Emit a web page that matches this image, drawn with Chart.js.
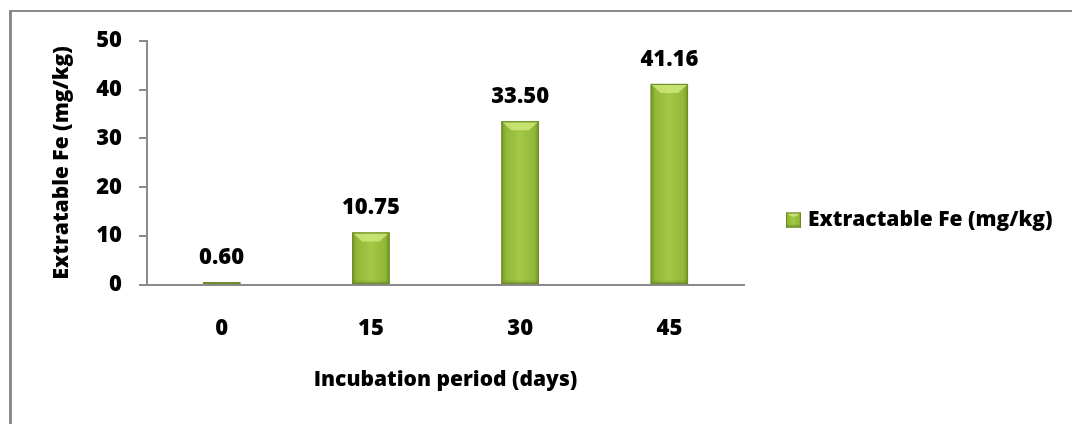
<!DOCTYPE html>
<html>
<head>
<meta charset="utf-8">
<script src="https://cdn.jsdelivr.net/npm/chart.js@4.4.1/dist/chart.umd.min.js"></script>
<style>
  html, body { margin: 0; padding: 0; background: #fff; overflow: hidden; }
  #frame { position: absolute; left: 9px; top: 10px; right: -10px; bottom: -10px;
           border-left: 3px solid #8b8b8b; border-top: 2px solid #8b8b8b; }
  #wrap { position: absolute; left: 0; top: 0; width: 1072px; height: 424px; }
</style>
</head>
<body>
<div id="frame"></div>
<div id="wrap"><canvas id="c" width="1072" height="424"></canvas></div>
<script>
// Incubation days and extractable iron readings
const categories = ['0', '15', '30', '45'];
const seriesLabel = 'Extractable Fe (mg/kg)';
const ironValues = [0.60, 10.75, 33.50, 41.16];
const yTickValues = [0, 10, 20, 30, 40, 50];
const xTitle = 'Incubation period (days)';
const yTitle = 'Extratable Fe (mg/kg)';

const FONT = '"Open Sans", "DejaVu Sans", sans-serif';
const WEIGHT = '800';
const boldFont = (size) => ({ family: FONT, size: size, weight: WEIGHT });
const AXIS_GREY = '#8a8a8a';
const BAR_FILL = '#9cc33e';
const BAR_EDGE = '#6d8a24';

// Draws a bevelled green block (bars and the legend key share it)
function drawBevelBlock(ctx, x0, top, width, h, bevel) {
  const x1 = x0 + width, bottom = top + h;
  const b = Math.min(bevel, h / 2, width / 2);
  ctx.save();
  ctx.fillStyle = BAR_FILL;
  ctx.fillRect(x0, top, width, h);
  const g = ctx.createLinearGradient(x0, 0, x1, 0);
  g.addColorStop(0, 'rgba(85,115,20,0.55)');
  g.addColorStop(0.13, 'rgba(85,115,20,0.12)');
  g.addColorStop(0.5, 'rgba(200,230,110,0.18)');
  g.addColorStop(0.87, 'rgba(85,115,20,0.12)');
  g.addColorStop(1, 'rgba(85,115,20,0.55)');
  ctx.fillStyle = g;
  ctx.fillRect(x0, top, width, h);
  // top bevel highlight
  ctx.beginPath();
  ctx.moveTo(x0 + 1, top + 1);
  ctx.lineTo(x1 - 1, top + 1);
  ctx.lineTo(x1 - 1 - b, top + b);
  ctx.lineTo(x0 + 1 + b, top + b);
  ctx.closePath();
  ctx.fillStyle = 'rgba(208,234,125,0.8)';
  ctx.fill();
  // bottom shade
  const sb = Math.min(4, h / 3);
  const gb = ctx.createLinearGradient(0, bottom - sb, 0, bottom);
  gb.addColorStop(0, 'rgba(80,110,20,0)');
  gb.addColorStop(1, 'rgba(80,110,20,0.45)');
  ctx.fillStyle = gb;
  ctx.fillRect(x0, bottom - sb, width, sb);
  // outline
  ctx.strokeStyle = BAR_EDGE;
  ctx.lineWidth = 1;
  ctx.strokeRect(x0 + 0.5, top + 0.5, width - 1, Math.max(h - 1, 0.5));
  ctx.restore();
}

const bevelPlugin = {
  id: 'bevel',
  afterDatasetDraw(chart, args) {
    const ctx = chart.ctx;
    args.meta.data.forEach((bar) => {
      const { x, y, base, width } = bar.getProps(['x', 'y', 'base', 'width'], true);
      const top = Math.min(y, base), h = Math.abs(base - y);
      drawBevelBlock(ctx, x - width / 2, top, width, h, 9);
    });
  }
};

// Value labels above the bars
const valueLabelPlugin = {
  id: 'valueLabels',
  afterDatasetsDraw(chart) {
    const ctx = chart.ctx;
    chart.data.datasets.forEach((ds, di) => {
      const meta = chart.getDatasetMeta(di);
      meta.data.forEach((bar, i) => {
        const { x, y } = bar.getProps(['x', 'y'], true);
        ctx.save();
        ctx.font = WEIGHT + ' 22px ' + FONT;
        ctx.fillStyle = '#000';
        ctx.textAlign = 'center';
        ctx.textBaseline = 'alphabetic';
        ctx.fillText(ds.data[i].toFixed(2), x, y - 18);
        ctx.restore();
      });
    });
  }
};

// Series key placed in the space to the right of the plot
const sideLegendPlugin = {
  id: 'sideLegend',
  afterDraw(chart, args, opts) {
    const ctx = chart.ctx;
    const area = chart.chartArea;
    const boxX = area.right + opts.gap;
    const cy = opts.centerY;
    drawBevelBlock(ctx, boxX, cy - 7.5, 15, 15, 4);
    ctx.save();
    ctx.font = WEIGHT + ' 21px ' + FONT;
    ctx.fillStyle = '#000';
    ctx.textAlign = 'left';
    ctx.textBaseline = 'middle';
    ctx.fillText(chart.data.datasets[0].label, boxX + 22, cy);
    ctx.restore();
  }
};

const PAD_TOP = 40.7, PAD_RIGHT = 328;
const AXIS_Y = 285, AXIS_X = 147;

new Chart(document.getElementById('c'), {
  type: 'bar',
  data: {
    labels: categories,
    datasets: [{
      label: seriesLabel,
      data: ironValues,
      backgroundColor: BAR_FILL,
      borderWidth: 0,
      barPercentage: 0.25,
      categoryPercentage: 1.0
    }]
  },
  options: {
    responsive: false,
    animation: false,
    devicePixelRatio: 1,
    layout: { padding: { top: PAD_TOP, bottom: 0, left: 0, right: PAD_RIGHT } },
    plugins: {
      tooltip: { enabled: false },
      legend: { display: false },
      sideLegend: { gap: 42, centerY: 220 }
    },
    scales: {
      x: {
        grid: { display: false },
        border: { color: AXIS_GREY, width: 2 },
        ticks: { font: boldFont(22), color: '#000', padding: 23 },
        title: { display: true, text: xTitle, font: boldFont(21), color: '#000',
                 padding: { top: 0, bottom: 31 } },
        afterFit(scale) { scale.height = 424 - AXIS_Y; }
      },
      y: {
        min: 0,
        max: 50,
        afterBuildTicks(scale) { scale.ticks = yTickValues.map(v => ({ value: v })); },
        grid: { drawOnChartArea: false, tickLength: 8, color: AXIS_GREY, lineWidth: 2 },
        border: { color: AXIS_GREY, width: 2 },
        ticks: { font: boldFont(22), color: '#000', padding: 17 },
        title: { display: true, text: yTitle, font: boldFont(21), color: '#000',
                 padding: { top: 49.5, bottom: 0 } },
        afterFit(scale) { scale.width = AXIS_X; }
      }
    }
  },
  plugins: [bevelPlugin, valueLabelPlugin, sideLegendPlugin]
});
</script>
</body>
</html>
